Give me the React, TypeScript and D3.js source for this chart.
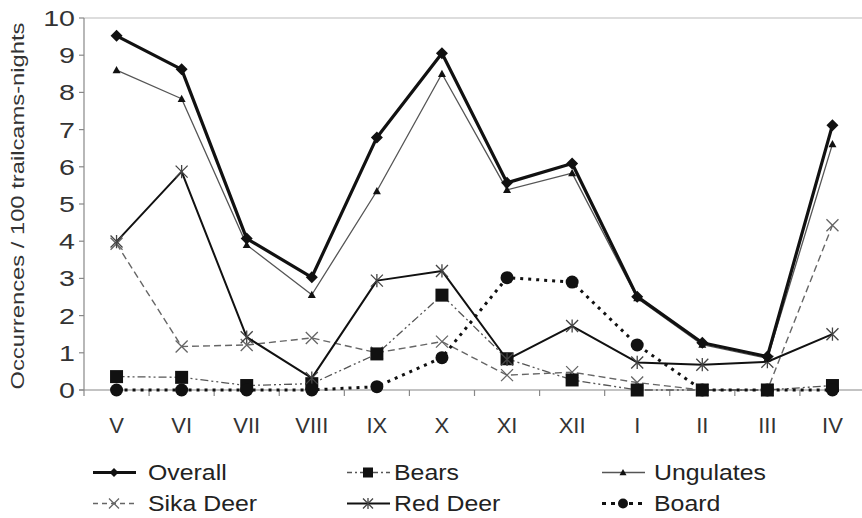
import React from "react";
import * as d3 from "d3";

const months = ["V", "VI", "VII", "VIII", "IX", "X", "XI", "XII", "I", "II", "III", "IV"];
const overall = [9.52, 8.62, 4.07, 3.03, 6.79, 9.05, 5.57, 6.09, 2.51, 1.27, 0.9, 7.12];
const bears = [0.36, 0.34, 0.12, 0.17, 0.97, 2.55, 0.84, 0.27, 0, 0, 0, 0.12];
const ungulates = [8.6, 7.83, 3.9, 2.56, 5.35, 8.5, 5.38, 5.83, 2.47, 1.22, 0.85, 6.61];
const sikaDeer = [3.93, 1.17, 1.21, 1.4, 1.0, 1.3, 0.4, 0.48, 0.2, 0.0, 0.0, 4.43];
const redDeer = [3.99, 5.87, 1.42, 0.32, 2.94, 3.2, 0.82, 1.72, 0.74, 0.68, 0.76, 1.5];
const board = [0, 0, 0, 0, 0.09, 0.87, 3.02, 2.9, 1.21, 0, 0, 0];
const yTicks = [0, 1, 2, 3, 4, 5, 6, 7, 8, 9, 10];

type Marker = "diamond" | "square" | "triangle" | "x" | "asterisk" | "circle";
interface Series {
  name: string;
  values: number[];
  stroke: string;
  width: number;
  dash: string;
  legendDash: string;
  marker: Marker;
  msize: number;
  lsize: number;
  mcolor: string;
}

const series: Series[] = [
  { name: "Sika Deer", values: sikaDeer, stroke: "#666", width: 1.4, dash: "7,4", legendDash: "5,4", marker: "x", msize: 6, lsize: 5, mcolor: "#666" },
  { name: "Ungulates", values: ungulates, stroke: "#555", width: 1.3, dash: "", legendDash: "", marker: "triangle", msize: 4, lsize: 3.5, mcolor: "#111" },
  { name: "Bears", values: bears, stroke: "#555", width: 1.3, dash: "8,3,2,3,2,3", legendDash: "5,3,2,3", marker: "square", msize: 6.5, lsize: 5, mcolor: "#111" },
  { name: "Red Deer", values: redDeer, stroke: "#111", width: 2, dash: "", legendDash: "", marker: "asterisk", msize: 6, lsize: 5, mcolor: "#444" },
  { name: "Board", values: board, stroke: "#111", width: 3, dash: "3,5", legendDash: "4,5", marker: "circle", msize: 6.5, lsize: 5, mcolor: "#111" },
  { name: "Overall", values: overall, stroke: "#111", width: 3.2, dash: "", legendDash: "", marker: "diamond", msize: 6, lsize: 4.5, mcolor: "#111" },
];

function MarkerShape({ m, x, y, s, c }: { m: Marker; x: number; y: number; s: number; c: string }) {
  switch (m) {
    case "diamond":
      return <path d={`M${x},${y - s}L${x + s},${y}L${x},${y + s}L${x - s},${y}Z`} fill={c} />;
    case "square":
      return <rect x={x - s} y={y - s} width={2 * s} height={2 * s} fill={c} />;
    case "triangle":
      return <path d={`M${x},${y - s}L${x + s},${y + s * 0.8}L${x - s},${y + s * 0.8}Z`} fill={c} />;
    case "circle":
      return <circle cx={x} cy={y} r={s} fill={c} />;
    case "x":
      return (
        <path d={`M${x - s},${y - s}L${x + s},${y + s}M${x - s},${y + s}L${x + s},${y - s}`} stroke={c} strokeWidth={1.3} fill="none" />
      );
    case "asterisk":
      return (
        <path
          d={`M${x - s},${y - s}L${x + s},${y + s}M${x - s},${y + s}L${x + s},${y - s}M${x},${y - s * 1.1}L${x},${y + s * 1.1}`}
          stroke={c}
          strokeWidth={1.3}
          fill="none"
        />
      );
  }
  return null;
}

export default function App() {
  const W = 862, H = 518;
  const left = 84, right = 865, top = 18, bottom = 390;
  const x = d3.scaleBand<string>().domain(months).range([left, right]);
  const cx = (m: string) => (x(m) as number) + x.bandwidth() / 2;
  const y = d3.scaleLinear().domain([0, 10]).range([bottom, top]);
  const font = "Liberation Sans, Arial, sans-serif";

  const line = d3
    .line<number>()
    .x((_, i) => cx(months[i]))
    .y((d) => y(d));

  const legend = [
    { s: "Overall", col: 0, row: 0 },
    { s: "Bears", col: 1, row: 0 },
    { s: "Ungulates", col: 2, row: 0 },
    { s: "Sika Deer", col: 0, row: 1 },
    { s: "Red Deer", col: 1, row: 1 },
    { s: "Board", col: 2, row: 1 },
  ];
  const colX = [93, 347, 602];
  const textX = [148, 394, 654];
  const rowY = [472.5, 503.5];

  return (
    <svg width={W} height={H} style={{ position: "absolute", left: 0, top: 0, background: "#fff" }} fontFamily={font}>
      <rect width={W} height={H} fill="#fff" />
      <line x1={left} x2={W} y1={y(10)} y2={y(10)} stroke="#bbb" strokeWidth={1.2} />
      <line x1={left} x2={left} y1={top} y2={bottom + 6} stroke="#888" strokeWidth={1.2} />
      {yTicks.map((t) => (
        <g key={t}>
          <line x1={left - 5} x2={left} y1={y(t)} y2={y(t)} stroke="#888" strokeWidth={1.2} />
          <text transform={`translate(${left - 9},${y(t)}) scale(1.3,1)`} dy="0.36em" textAnchor="end" fontSize={22} fill="#333">
            {t}
          </text>
        </g>
      ))}
      <line x1={left - 5} x2={W} y1={bottom} y2={bottom} stroke="#888" strokeWidth={1.2} />
      {months.map((m, i) => (
        <g key={m}>
          {i > 0 && <line x1={x(m)} x2={x(m)} y1={bottom} y2={bottom + 6} stroke="#888" strokeWidth={1.2} />}
          <text x={cx(m)} y={433} textAnchor="middle" fontSize={22} fill="#333">
            {m}
          </text>
        </g>
      ))}
      <text
        transform={`translate(24,${206}) rotate(-90)`}
        textAnchor="middle"
        fontSize={18}
        fill="#333"
        textLength={367}
        lengthAdjust="spacingAndGlyphs"
      >
        Occurrences / 100 trailcams-nights
      </text>
      {series.map((s) => (
        <g key={s.name}>
          <path
            d={line(s.values) || ""}
            fill="none"
            stroke={s.stroke}
            strokeWidth={s.width}
            strokeDasharray={s.dash || undefined}
            strokeLinejoin="round"
          />
          {s.values.map((v, i) => (
            <MarkerShape key={i} m={s.marker} x={cx(months[i])} y={y(v)} s={s.msize} c={s.mcolor} />
          ))}
        </g>
      ))}
      {legend.map((l) => {
        const s = series.find((q) => q.name === l.s)!;
        const x0 = colX[l.col];
        const yy = rowY[l.row];
        return (
          <g key={l.s}>
            <line x1={x0} x2={x0 + 43} y1={yy} y2={yy} stroke={s.stroke} strokeWidth={s.width} strokeDasharray={s.legendDash || undefined} />
            <MarkerShape m={s.marker} x={x0 + 21} y={yy} s={s.lsize} c={s.mcolor} />
            <text transform={`translate(${textX[l.col]},${yy}) scale(1.13,1)`} dy="0.36em" fontSize={22} fill="#222">
              {l.s}
            </text>
          </g>
        );
      })}
    </svg>
  );
}
